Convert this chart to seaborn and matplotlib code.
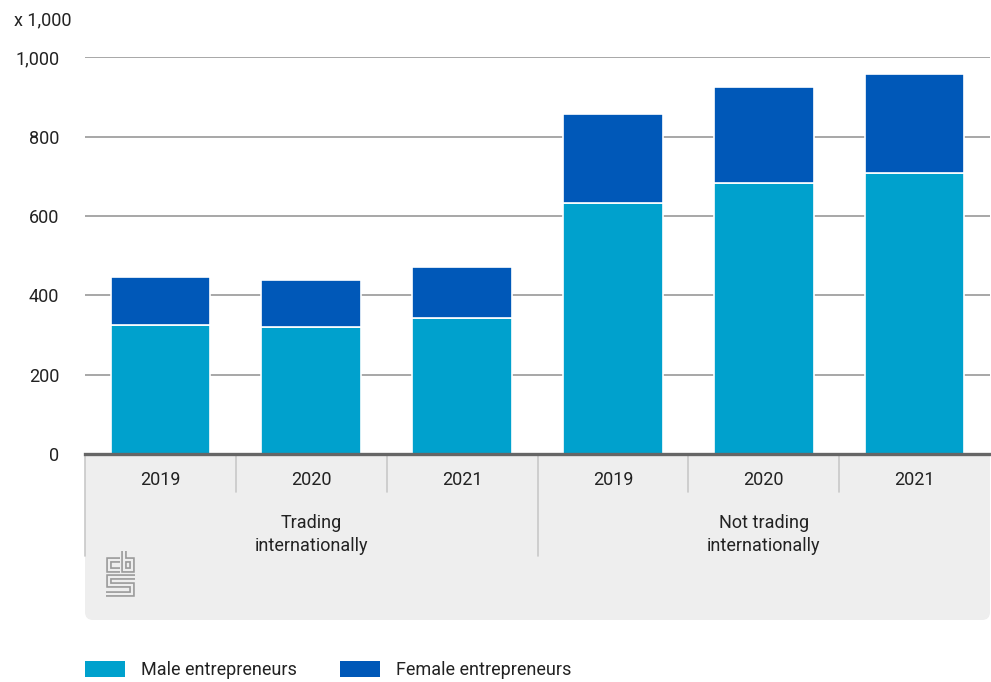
import matplotlib
matplotlib.use("Agg")
import matplotlib.pyplot as plt
from matplotlib.patches import FancyBboxPatch, Rectangle, Patch
import numpy as np
import pandas as pd
import seaborn as sns

# Entrepreneurs (x 1,000) by trading status and year
groups = ["Trading\ninternationally", "Not trading\ninternationally"]
years = ["2019", "2020", "2021"]
male = [325, 321, 343, 632, 683, 708]
female = [122, 118, 129, 225, 242, 250]
series_names = ["Male entrepreneurs", "Female entrepreneurs"]
y_ticks = [0, 200, 400, 600, 800, 1000]
y_tick_labels = ["0", "200", "400", "600", "800", "1,000"]
unit_label = "x 1,000"

MALE_C = "#00a1cd"
FEMALE_C = "#0058b8"
TEXT_C = "#222222"
PANEL_C = "#eeeeee"
FS = 13

sns.set_theme(style="white")
plt.rcParams["font.family"] = ["Roboto", "DejaVu Sans"]

W, H = 991, 682
fig = plt.figure(figsize=(W / 100, H / 100), dpi=100)

# Full-figure overlay in pixel coordinates for the category panel, logo, legend
bg = fig.add_axes([0, 0, 1, 1], zorder=0)
bg.set_xlim(0, W)
bg.set_ylim(H, 0)
bg.axis("off")

# Main plotting area
x0, x1, y0, y_top = 85, 990, 454, 57.4
ax = fig.add_axes([x0 / W, (H - y0) / H, (x1 - x0) / W, (y0 - y_top) / H], zorder=1)
ax.patch.set_alpha(0)

keys = [f"{g}|{y}" for g in groups for y in years]
df = pd.DataFrame({"key": keys, "male": male, "female": female})

for v in y_ticks[1:]:
    ax.axhline(v, color="#a0a0a0", lw=1.3, zorder=0)

sns.barplot(data=df, x="key", y="male", color=MALE_C, width=0.66, saturation=1,
            edgecolor="white", linewidth=1.2, ax=ax, zorder=2)
sns.barplot(data=df, x="key", y="female", bottom=df["male"], color=FEMALE_C,
            width=0.66, saturation=1, edgecolor="white", linewidth=1.2, ax=ax, zorder=2)

ax.set_xlim(-0.5, len(keys) - 0.5)
ax.set_ylim(0, 1000)
ax.set_xticks([])
ax.set_xlabel("")
ax.set_ylabel("")
ax.set_yticks(y_ticks)
ax.set_yticklabels(y_tick_labels)
ax.tick_params(axis="y", length=0, pad=18.5, labelsize=FS, labelcolor=TEXT_C)
for s in ["top", "right", "left"]:
    ax.spines[s].set_visible(False)
ax.spines["bottom"].set_color("#666666")
ax.spines["bottom"].set_linewidth(2.4)
ax.spines["bottom"].set_zorder(5)

bg.text(14, 20, unit_label, ha="left", va="center", fontsize=FS, color=TEXT_C)

# Category panel beneath the baseline
panel_bottom = 620
bg.add_patch(FancyBboxPatch((x0 + 8, y0 + 8), (x1 - x0) - 16, panel_bottom - y0 - 16,
                            boxstyle="round,pad=8", fc=PANEL_C, ec="none"))
bg.add_patch(Rectangle((x0, y0), x1 - x0, 40, fc=PANEL_C, ec="none"))

slot = (x1 - x0) / len(keys)
for i in range(len(keys)):
    cx = x0 + slot * (i + 0.5)
    bg.text(cx, 480, years[i % 3], ha="center", va="center", fontsize=FS, color=TEXT_C)
    if i % 3 != 0:
        bg.plot([x0 + slot * i] * 2, [456, 492], color="#c8c8c8", lw=1.2)
for g, name in enumerate(groups):
    bg.plot([x0 + slot * 3 * g] * 2, [456, 556], color="#c8c8c8", lw=1.2)
    bg.text(x0 + slot * (3 * g + 1.5), 534.5, name, ha="center", va="center",
            fontsize=FS, color=TEXT_C, linespacing=1.32)

# cbs logo, drawn as outlined strokes
logo_paths = [
    [(119.5, 559.5), (108.5, 559.5), (108.5, 569.5), (119.5, 569.5)],
    [(123.5, 551), (123.5, 569.5), (132, 569.5), (132, 559.5), (123.5, 559.5)],
    [(134.5, 576.5), (108.5, 576.5), (108.5, 585), (132, 585), (132, 593.5), (106, 593.5)],
]
for p in logo_paths:
    xs, ys = zip(*p)
    bg.plot(xs, ys, color="#9a9a9a", lw=4.0, solid_joinstyle="miter", solid_capstyle="butt")
    bg.plot(xs, ys, color=PANEL_C, lw=1.6, solid_joinstyle="miter", solid_capstyle="butt")

# Legend
handles = [Patch(facecolor=MALE_C, edgecolor="none"), Patch(facecolor=FEMALE_C, edgecolor="none")]
fig.legend(handles, series_names, loc="center left", bbox_to_anchor=(85 / W, 1 - 670 / H),
           ncol=2, frameon=False, fontsize=FS, handlelength=2.2, handleheight=0.95,
           handletextpad=0.9, columnspacing=2.4, borderaxespad=0, borderpad=0,
           labelcolor=TEXT_C)

fig.savefig("out.png", dpi=100)
